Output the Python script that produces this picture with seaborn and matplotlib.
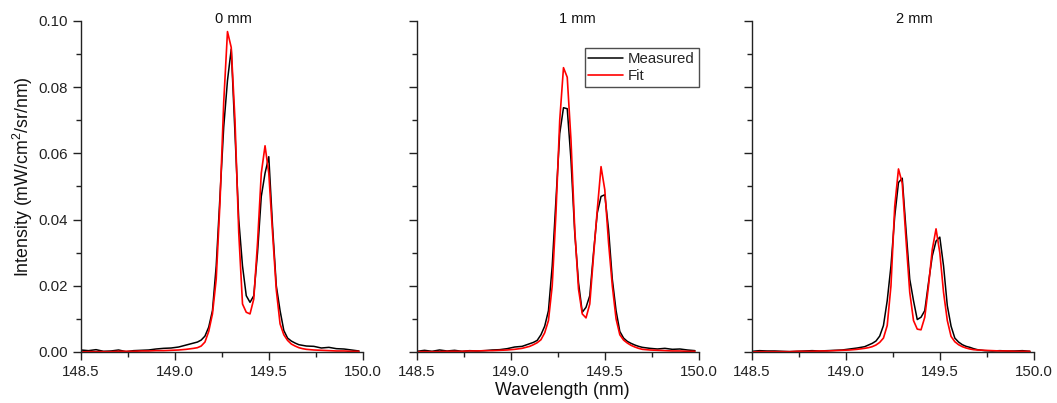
import numpy as np
import pandas as pd
import seaborn as sns
import matplotlib
matplotlib.use("Agg")
import matplotlib.pyplot as plt
from matplotlib.ticker import MultipleLocator, FormatStrFormatter

# wavelength grid (nm), coarse in the tails, finer across the doublet
wavelength = [148.50, 148.54, 148.58, 148.62, 148.66, 148.70, 148.74, 148.78,
              148.82, 148.86, 148.90, 148.94, 148.98, 149.02, 149.06, 149.10,
              149.12, 149.14, 149.16, 149.18, 149.20, 149.22, 149.24, 149.26,
              149.28, 149.30, 149.32, 149.34, 149.36, 149.38, 149.40, 149.42,
              149.44, 149.46, 149.48, 149.50, 149.52, 149.54, 149.56, 149.58,
              149.60, 149.62, 149.64, 149.66, 149.68, 149.70,
              149.74, 149.78, 149.82, 149.86, 149.90, 149.94, 149.98]

measured_0mm = [0.0006, 0.0004, 0.0007, 0.0002, 0.0003, 0.0006, 0.0001, 0.0004,
                0.0005, 0.0006, 0.0009, 0.0011, 0.0012, 0.0015, 0.0021, 0.0027,
                0.0030, 0.0036, 0.0048, 0.0075, 0.0125, 0.026, 0.047, 0.068,
                0.082, 0.0915, 0.066, 0.040, 0.026, 0.017, 0.0150, 0.017,
                0.030, 0.047, 0.054, 0.059, 0.038, 0.020, 0.0125, 0.0065,
                0.0042, 0.0033, 0.0027, 0.0022, 0.0020, 0.0018,
                0.0017, 0.0012, 0.0014, 0.0010, 0.0009, 0.0006, 0.0003]
fit_0mm = [0.0000, 0.0001, 0.0001, 0.0001, 0.0001, 0.0002, 0.0002, 0.0002,
           0.0003, 0.0003, 0.0004, 0.0004, 0.0005, 0.0006, 0.0008, 0.0011,
           0.0013, 0.0018, 0.0030, 0.0062, 0.0115, 0.022, 0.045, 0.0755,
           0.0968, 0.092, 0.070, 0.036, 0.0145, 0.012, 0.0115, 0.016,
           0.033, 0.054, 0.0623, 0.054, 0.036, 0.0187, 0.0085, 0.0052,
           0.0035, 0.0024, 0.0018, 0.0013, 0.0010, 0.0008,
           0.0006, 0.0005, 0.0004, 0.0003, 0.0003, 0.0002, 0.0002]

measured_1mm = [0.0002, 0.0005, 0.0002, 0.0006, 0.0003, 0.0005, 0.0002, 0.0004,
                0.0003, 0.0004, 0.0006, 0.0007, 0.0010, 0.0015, 0.0017, 0.0025,
                0.0029, 0.0035, 0.0052, 0.0078, 0.0125, 0.026, 0.046, 0.066,
                0.0738, 0.0735, 0.058, 0.036, 0.021, 0.0120, 0.0135, 0.017,
                0.030, 0.042, 0.047, 0.0475, 0.037, 0.022, 0.0125, 0.0062,
                0.0042, 0.0032, 0.0026, 0.0021, 0.0017, 0.0014,
                0.0011, 0.0009, 0.0011, 0.0008, 0.0009, 0.0006, 0.0004]
fit_1mm = [0.0001, 0.0001, 0.0001, 0.0001, 0.0002, 0.0002, 0.0002, 0.0003,
           0.0003, 0.0004, 0.0004, 0.0005, 0.0006, 0.0008, 0.0011, 0.0017,
           0.0022, 0.0028, 0.0037, 0.0058, 0.0095, 0.020, 0.042, 0.070,
           0.0859, 0.083, 0.064, 0.037, 0.019, 0.0115, 0.0103, 0.0145,
           0.029, 0.043, 0.056, 0.049, 0.033, 0.020, 0.010, 0.0052,
           0.0036, 0.0027, 0.0020, 0.0015, 0.0011, 0.0008,
           0.0006, 0.0005, 0.0004, 0.0003, 0.0003, 0.0002, 0.0002]

measured_2mm = [0.0002, 0.0004, 0.0003, 0.0003, 0.0002, 0.0001, 0.0002, 0.0003,
                0.0004, 0.0003, 0.0004, 0.0005, 0.0006, 0.0009, 0.0012, 0.0016,
                0.0021, 0.0026, 0.0033, 0.0048, 0.0080, 0.0155, 0.026, 0.041,
                0.0512, 0.0525, 0.037, 0.022, 0.0155, 0.0098, 0.0105, 0.0125,
                0.021, 0.029, 0.0335, 0.0347, 0.026, 0.014, 0.0078, 0.0042,
                0.0030, 0.0022, 0.0017, 0.0014, 0.0010, 0.0007,
                0.0004, 0.0003, 0.0004, 0.0003, 0.0003, 0.0004, 0.0002]
fit_2mm = [0.0000, 0.0001, 0.0001, 0.0001, 0.0001, 0.0001, 0.0002, 0.0002,
           0.0002, 0.0003, 0.0003, 0.0004, 0.0005, 0.0006, 0.0008, 0.0011,
           0.0013, 0.0016, 0.0021, 0.0029, 0.0042, 0.0080, 0.020, 0.044,
           0.0553, 0.051, 0.034, 0.018, 0.0095, 0.0069, 0.0067, 0.0105,
           0.020, 0.031, 0.0372, 0.030, 0.018, 0.0095, 0.0047, 0.0031,
           0.0022, 0.0016, 0.0012, 0.0009, 0.0007, 0.0006,
           0.0005, 0.0004, 0.0003, 0.0003, 0.0002, 0.0002, 0.0002]

titles = ["0 mm", "1 mm", "2 mm"]
measured = [measured_0mm, measured_1mm, measured_2mm]
fits = [fit_0mm, fit_1mm, fit_2mm]

sns.set_style("ticks")
plt.rcParams["font.family"] = ["Liberation Sans", "DejaVu Sans"]
plt.rcParams["mathtext.fontset"] = "custom"
plt.rcParams["mathtext.rm"] = "Liberation Sans"

fig = plt.figure(figsize=(10.57, 4.03), dpi=100)
lefts = [81 / 1057, 417 / 1057, 752 / 1057]
title_x = [0.54, 0.57, 0.577]
axes = []
for i in range(3):
    ax = fig.add_axes([lefts[i], 0.1266, 0.2665, 0.8213])
    axes.append(ax)
    sns.lineplot(x=wavelength, y=measured[i], ax=ax, color="black", linewidth=1.1,
                 label="Measured", legend=(i == 1))
    sns.lineplot(x=wavelength, y=fits[i], ax=ax, color="#ff0000", linewidth=1.2,
                 label="Fit", legend=(i == 1))
    ax.set_xlim(148.5, 150.0)
    ax.set_ylim(0, 0.10)
    ax.xaxis.set_major_locator(MultipleLocator(0.5))
    ax.xaxis.set_minor_locator(MultipleLocator(0.25))
    ax.yaxis.set_major_locator(MultipleLocator(0.02))
    ax.yaxis.set_minor_locator(MultipleLocator(0.01))
    ax.xaxis.set_major_formatter(FormatStrFormatter("%.1f"))
    ax.yaxis.set_major_formatter(FormatStrFormatter("%.2f"))
    ax.tick_params(which="major", direction="out", length=6, width=1,
                   labelsize=10.8, colors="#222222")
    ax.tick_params(which="minor", direction="out", length=3.5, width=1, colors="#222222")
    for side in ["top", "right"]:
        ax.spines[side].set_visible(False)
    for side in ["left", "bottom"]:
        ax.spines[side].set_linewidth(1)
        ax.spines[side].set_color("#222222")
    if i > 0:
        ax.tick_params(axis="y", labelleft=False)
    ax.text(title_x[i], 1.006, titles[i], transform=ax.transAxes,
            ha="center", va="center", fontsize=10.5, color="#111111")
    ax.set_xlabel("")
    ax.set_ylabel("")
    ax.margins(x=0)

leg = axes[1].legend(loc="upper right", bbox_to_anchor=(1.0, 0.918), fontsize=10.8,
                     frameon=True, fancybox=False, handlelength=2.3,
                     handletextpad=0.35, labelspacing=0.2, borderpad=0.25,
                     borderaxespad=0)
leg.get_frame().set_edgecolor("#222222")
leg.get_frame().set_linewidth(1)

fig.text(0.532, 0.032, "Wavelength (nm)", ha="center", va="center", fontsize=12.8,
         color="#111111")
fig.text(0.022, 0.563, r"Intensity (mW/cm$^2$/sr/nm)", ha="center", va="center",
         rotation=90, fontsize=12.8, color="#111111")

fig.savefig("out.png", dpi=100)
